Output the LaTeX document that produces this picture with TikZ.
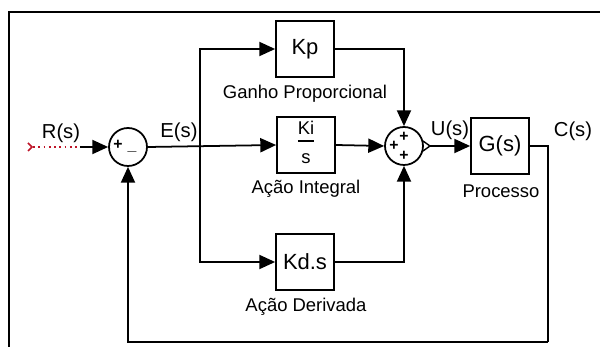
\documentclass[tikz,border=0pt]{standalone}
\usepackage{fontspec}
\setmainfont{Liberation Sans}
\usetikzlibrary{arrows.meta}

\definecolor{vermelho}{RGB}{190,20,40}

\begin{document}
\begin{tikzpicture}[x=0.02cm,y=-0.02cm,
  font=\fontsize{10.5}{12}\selectfont,
  bloco/.style={draw,line width=1pt,inner sep=0pt,minimum width=1.16cm,minimum height=1.12cm,
    font=\fontsize{12.5}{14}\selectfont},
  soma/.style={draw,circle,line width=1pt,inner sep=0pt,minimum size=0.76cm},
  sinal/.style={inner sep=0pt,font=\fontsize{9}{9}\selectfont\bfseries},
  rotulo/.style={font=\fontsize{11.5}{13}\selectfont},
  seta/.style={line width=1pt,-{Triangle[length=9pt,width=8pt]}}]

\useasboundingbox (0,0) rectangle (600,347);

\draw[line width=1.2pt] (9,360) -- (9,12) -- (610,12);

% somadores
\node[soma] (s1) at (128,147) {};
\node[sinal] at (118,145) {+};
\node[sinal] at (132,151) {\_};

\node[soma] (s2) at (404,146) {};
\node[sinal] at (404,137) {+};
\node[sinal] at (394,146) {+};
\node[sinal] at (404,156) {+};
\draw[line width=0.8pt] (423,141) -- (430,146) -- (423,151);

% blocos
\node[bloco] (kp) at (305,49) {Kp};
\node[bloco] (ki) at (306,145) {\setlength{\arrayrulewidth}{0.9pt}\fontsize{10.5}{11}\selectfont
  \begin{tabular}{@{}c@{}}Ki\\[0pt]\hline\rule{0pt}{12pt}s\end{tabular}};
\node[bloco] (kd) at (305,262) {Kd.s};
\node[bloco] (g) at (500,146) {G(s)};

\node (lkp) at (305,94) {Ganho Proporcional};
\node (lki) at (306,189) {Ação Integral};
\node (lkd) at (306,307) {Ação Derivada};
\node (lg) at (501,191) {Processo};

\node[rotulo] (lr) at (61,133) {R(s)};
\node[rotulo] (le) at (179,132) {E(s)};
\node[rotulo] (lu) at (450,130) {U(s)};
\node[rotulo] (lc) at (573,131) {C(s)};

% entrada
\coordinate (rin) at (33,147);
\coordinate (rmid) at (80,147);
\draw[vermelho,line width=1pt] (28,143) -- (32,147) -- (28,151);
\draw[vermelho,line width=1pt,dotted] (rin) -- (rmid);
\draw[seta] (rmid) -- (s1.west);

% ramos
\coordinate (br) at (200,147);
\draw[seta] (s1.east) -- (ki.west);
\draw[seta] (br) |- (kp.west);
\draw[seta] (br) |- (kd.west);

\draw[seta] (kp.east) -| (s2.north);
\draw[seta] (ki.east) -- (s2.west);
\draw[seta] (kd.east) -| (s2.south);

% saida e realimentacao
\coordinate (sout) at (430,146);
\coordinate (cout) at (548,146);
\coordinate (fb) at (548,342);
\draw[seta] (sout) -- (g.west);
\draw[line width=1pt] (g.east) -- (cout) -- (fb);
\draw[seta] (fb) -| (s1.south);

\end{tikzpicture}
\end{document}
